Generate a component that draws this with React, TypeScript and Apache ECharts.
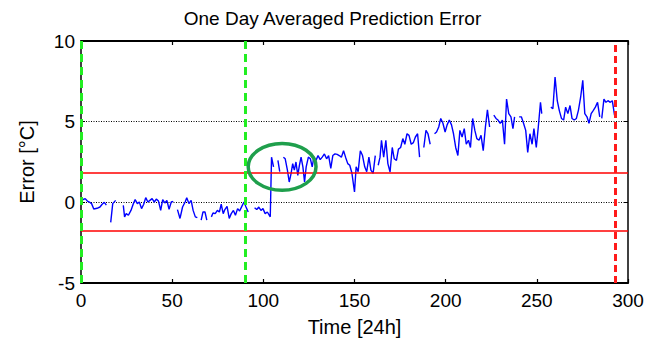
import React, { useEffect, useRef } from "react";
import * as echarts from "echarts";

const titleText = "One Day Averaged Prediction Error";
const xAxisName = "Time [24h]";
const yAxisName = "Error [°C]";

// time (days) and averaged prediction error (°C); null marks a gap in the record
const errorTimes: number[] = [
  0, 1.2, 2.3, 3.5, 4.6, 5.8, 7, 8.8, 10.4, 11.6, 12.8, 13.9, 15,
  16.3, 17.4, 19, 21,
  23.2, 23.9, 24.8, 26, 27.4, 28.6, 29.7, 30.9, 32, 33.2, 34.4, 35.5, 36.7, 37.8, 39, 40.2, 41.3, 42.5, 43.7, 44.8, 46, 47.1, 48.3, 49.5, 50.6, 51.8,
  52.9, 54.3, 55.7, 57.1, 58, 59.2, 60.4, 61.5, 62.7, 63.8, 64.8,
  65.9, 66.9, 68, 69, 70.2,
  71.5, 72.4, 73.6, 74.8, 75.9, 76.9, 78, 78.9, 80.1, 81.3, 82.4, 83.6, 84.7, 85.9, 87, 88.2, 89.4, 90.5, 91.7, 93.5,
  95.2, 96.4, 97.5, 98.7, 99.8, 101, 102.2, 103.8, 104.5, 105.6, 106.8,
  108, 109, 110,
  111, 112, 113.2, 114.2, 115.2, 116.1, 117, 117.9, 118.9, 119.8, 120.7, 121.7, 122.6, 123.5, 124.7, 125.8, 126.8, 127.7, 128.9, 130, 131.2, 132.3, 133.5, 134.7, 135.8, 137, 138.1, 139.3, 140.5, 141.6, 142.8, 144, 145.1, 146.3, 147.4, 148.6, 150, 150.9, 152, 153.2, 154.4, 155.6, 156.7, 157.9, 159, 160.2, 161.4, 162.2,
  163, 164, 164.8, 166, 167.2, 168.3, 169.5, 170.7, 171.8, 173, 174.1, 175.3, 176.5, 177.6, 178.8, 179.9, 181.1, 182.3, 183.4, 184.6, 185.7, 187,
  188, 189.2, 190.3, 191.5, 192.7,
  193.9, 195, 196.2, 197.3, 198.5, 199.7, 200.8, 202, 203.2, 204.3, 205.5, 206.7, 207.8, 209, 210.2, 211.3, 212.5, 213.6, 214.8, 216, 217.1, 218.3, 219.4, 220.6, 221.8, 222.9, 224.1, 225.2,
  226.4, 227.6, 228.7, 229.9, 231.1, 232.3, 233.4, 234.6, 235.8, 236.9, 237.8, 239,
  240.3, 241.5, 242.7, 243.9, 245, 246.2, 247.4, 248.4, 249.7, 250.8, 252, 252.7, 255,
  257.7, 258.8, 260, 261.2, 262.3, 263.5, 264.7, 265.8, 267, 268.2, 269.3, 270.5, 271.7, 272.8, 274, 275.2, 276.3, 277.5, 278.6, 279.8, 281, 282.1, 283.3, 284.5, 285,
  285.6, 286.8, 287.9, 289, 290.3, 291.4, 292.6,
];

const errorValues: (number | null)[] = [
  0.29, 0.17, 0.23, 0.08, 0.02, -0.08, -0.41, -0.37, -0.29, -0.12, 0, -0.17, null,
  -1.24, -0.08, 0.12, null,
  -0.19, -0.9, -0.7, -0.8, -0.5, -0.12, 0.17, -0.08, 0.02, -0.39, -0.12, 0.29, 0.02, 0.12, 0.23, 0.02, 0.2, 0.08, -0.5, 0.17, -0.04, 0.12, -0.43, 0.02, 0.06, null,
  -0.45, -1.0, -0.29, 0.02, 0.29, -0.08, 0.12, -0.5, -0.9, -0.95, null,
  -1.1, -0.6, -0.6, -1.1, null,
  -0.9, -0.66, -0.7, -0.5, -0.6, -0.12, -0.7, -0.45, -0.25, -1.0, -0.7, -0.5, -0.8, -0.39, -0.54, -0.25, 0.02, -0.29, -0.6, null,
  -0.33, -0.45, -0.29, -0.5, -0.39, -0.7, -0.6, -0.9, 2.8, 2.2, null,
  2.6, 1.9, null,
  2.8, 2.7, 2.0, 1.26, 1.78, 2.4, 2.0, 2.5, 1.67, 2.3, 2.8, 2.2, 1.26, 2.2, 2.8, 2.7, 2.2, 2.8, 2.6, 2.9, 2.65, 2.8, 3.0, 2.7, 2.9, 2.1, 2.9, 3.0, 2.97, 2.9, 2.8, 3.2, 2.8, 2.4, 2.3, 1.8, 0.64, 2.2, 1.9, 3.2, 2.9, 2.2, 1.9, 2.8, 2.0, 1.8, 2.9, null,
  2.3, 2.8, 3.85, 2.8, 3.85, 2.4, 1.88, 3.4, 2.7, 2.6, 3.3, 3.4, 3.95, 3.6, 4.25, 4.15, 3.6, 3.7, 4.05, 4.25, 2.8, null,
  3.4, 4.46, 4.25, 3.6, null,
  4.25, 4.36, 4.67, 5.2, 4.9, 4.36, 4.8, 5.1, 4.8, 4.25, 3.4, 2.9, 4.46, 4.05, 4.57, 3.6, 3.85, 3.4, 5.2, 4.46, 3.95, 3.85, 4.15, 3.2, 4.67, 5.74, 4.67, null,
  5.4, 5.2, 5.1, 4.9, 5.1, 3.6, 6.4, 5.5, 5.3, 4.57, 5.3, null,
  5.3, 5.3, 4.9, 4.46, 3.1, 4.25, 3.6, 4.57, 3.4, 4.67, 6.2, 5.5, null,
  5.9, 5.8, 7.77, 6.3, 5.7, 5.2, 5.1, 5.9, 5.5, 6.0, 5.2, 5.1, 5.2, 5.7, 6.5, 7.56, 5.5, 5.3, 4.9, 5.5, 5.7, 5.9, 6.2, 5.3, null,
  5.2, 6.4, 6.2, 6.3, 6.2, 6.3, 5.4,
];

const xTicks = { min: 0, max: 300, interval: 50 };
const yTicks = { min: -5, max: 10, interval: 5 };

const limitLevels = [1.85, -1.75];
const greenMarkerTimes = [0, 90];
const redMarkerTimes = [293];

// highlighted region: [centre time, centre error, half-width (days), half-height (°C)]
const highlightEllipse = [110.3, 2.2, 18.6, 1.45];

const FONT = "'Liberation Sans', Arial, Helvetica, sans-serif";

export default function App() {
  const ref = useRef<HTMLDivElement>(null);

  useEffect(() => {
    if (!ref.current) return;
    const chart = echarts.init(ref.current, null, { renderer: "svg" });

    const lineData = errorTimes.map((t, i) => [t, errorValues[i]]);

    chart.setOption({
      animation: false,
      backgroundColor: "#ffffff",
      title: {
        text: titleText,
        left: "center",
        top: 4,
        textStyle: { fontFamily: FONT, fontSize: 19, fontWeight: "normal", color: "#000" },
      },
      grid: { left: 81, right: 37, top: 41, bottom: 64 },
      xAxis: [
        {
          type: "value",
          position: "bottom",
          ...xTicks,
          name: xAxisName,
          nameLocation: "middle",
          nameGap: 34,
          nameTextStyle: { fontFamily: FONT, fontSize: 20, color: "#000" },
          axisLine: { show: true, onZero: false, lineStyle: { color: "#000", width: 2 } },
          axisTick: { show: true, inside: true, length: 4, lineStyle: { color: "#000", width: 1.2 } },
          axisLabel: { fontFamily: FONT, fontSize: 19, color: "#000", margin: 8 },
          splitLine: { show: false },
        },
        {
          type: "value",
          position: "top",
          ...xTicks,
          axisLine: { show: true, onZero: false, lineStyle: { color: "#000", width: 2 } },
          axisTick: { show: true, inside: true, length: 4, lineStyle: { color: "#000", width: 1.2 } },
          axisLabel: { show: false },
          splitLine: { show: false },
        },
      ],
      yAxis: [
        {
          type: "value",
          position: "left",
          ...yTicks,
          name: yAxisName,
          nameLocation: "middle",
          nameGap: 44,
          nameRotate: 90,
          nameTextStyle: { fontFamily: FONT, fontSize: 20, color: "#000" },
          axisLine: { show: true, onZero: false, lineStyle: { color: "#000", width: 1.5 } },
          axisTick: { show: true, inside: true, length: 4, lineStyle: { color: "#000" } },
          axisLabel: { fontFamily: FONT, fontSize: 19, color: "#000", margin: 6 },
          splitLine: { show: true, lineStyle: { color: "#000", type: [1, 1.5], width: 1 } },
        },
        {
          type: "value",
          position: "right",
          ...yTicks,
          axisLine: { show: true, onZero: false, lineStyle: { color: "#000", width: 1.5 } },
          axisTick: { show: true, inside: true, length: 4, lineStyle: { color: "#000" } },
          axisLabel: { show: false },
          splitLine: { show: false },
        },
      ],
      series: [
        {
          type: "line",
          name: "limits",
          data: [],
          silent: true,
          markLine: {
            symbol: ["none", "none"],
            silent: true,
            label: { show: false },
            data: limitLevels.map((v) => ({
              yAxis: v,
              lineStyle: { color: "#ff0000", width: 1.5, type: "solid" },
            })),
          },
        },
        {
          type: "line",
          name: "error",
          data: lineData,
          showSymbol: false,
          symbol: "none",
          connectNulls: false,
          lineStyle: { color: "#0000ff", width: 1.4 },
          z: 3,
        },
        {
          type: "line",
          name: "markers",
          data: [],
          silent: true,
          z: 5,
          markLine: {
            symbol: ["none", "none"],
            silent: true,
            label: { show: false },
            data: [
              ...greenMarkerTimes.map((t) => ({
                xAxis: t,
                lineStyle: { color: "#22ee22", width: 3, type: [8, 5] },
              })),
              ...redMarkerTimes.map((t) => ({
                xAxis: t,
                lineStyle: { color: "#ff1a1a", width: 3, type: [7, 4] },
              })),
            ],
          },
        },
        {
          type: "custom",
          name: "highlight",
          silent: true,
          z: 6,
          data: [highlightEllipse],
          renderItem: (params: any, api: any) => {
            const c = api.coord([api.value(0), api.value(1)]);
            const s = api.size([api.value(2), api.value(3)]);
            return {
              type: "ellipse",
              shape: { cx: c[0], cy: c[1], rx: s[0], ry: s[1] },
              style: { fill: "none", stroke: "#1f9f4c", lineWidth: 3.5 },
            };
          },
        },
      ],
    });

    return () => chart.dispose();
  }, []);

  return <div ref={ref} style={{ width: 665, height: 347, position: "absolute", left: 0, top: 0 }} />;
}
